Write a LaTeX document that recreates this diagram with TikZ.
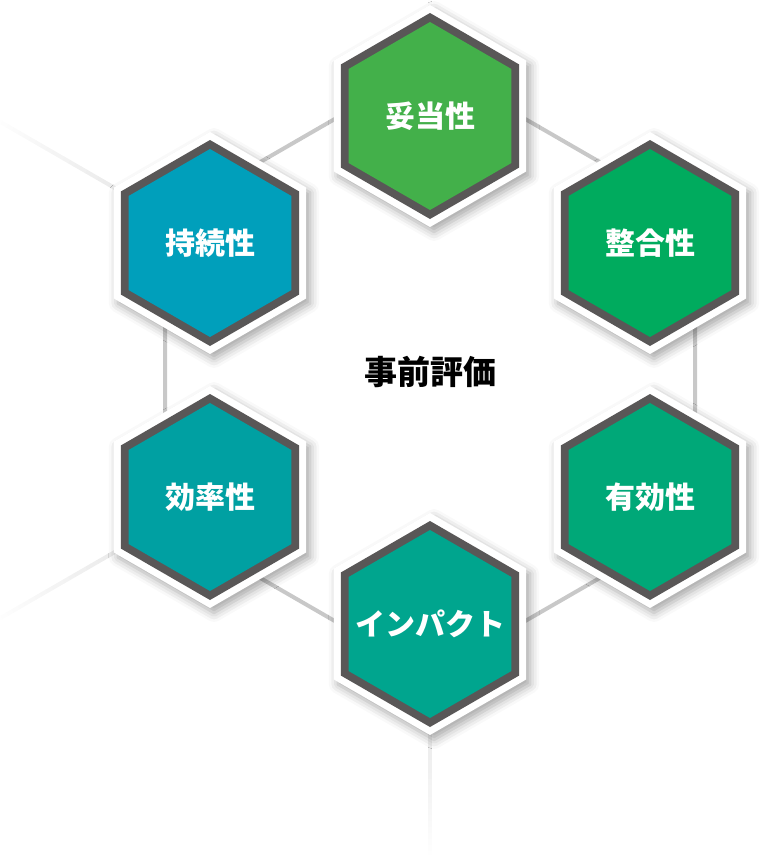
\documentclass[tikz,border=0pt]{standalone}
\usepackage{fontspec}
\newfontfamily\cjk{Noto Sans CJK JP}
\usetikzlibrary{calc,shadows.blur}
\definecolor{hexborder}{HTML}{595757}
\definecolor{linecol}{HTML}{C8C8C8}
\definecolor{fadecol}{HTML}{E2E2E2}
\definecolor{cA}{HTML}{43B04A}
\definecolor{cB}{HTML}{00AB5E}
\definecolor{cC}{HTML}{00A878}
\definecolor{cD}{HTML}{00A58E}
\definecolor{cE}{HTML}{00A0A2}
\definecolor{cF}{HTML}{009FBB}
\tikzset{
  hexlabel/.style={text=white, font=\cjk\bfseries\fontsize{30}{30}\selectfont, inner sep=0pt},
  centerlabel/.style={text=black, font=\cjk\bfseries\fontsize{33}{33}\selectfont, inner sep=0pt},
  bigedge/.style={draw=linecol, line width=4pt},
  hexshadow/.style={blur shadow={shadow xshift=4pt, shadow yshift=-5pt, shadow blur radius=9pt, shadow opacity=35}}
}
\newcommand\fadeline[2]{%
  \foreach \i in {0,...,29} {
    \pgfmathsetmacro\fa{\i/30}
    \pgfmathsetmacro\fb{(\i+1.05)/30}
    \pgfmathtruncatemacro\fp{100-3.3*\i}
    \draw[fadecol!\fp!white, line width=4pt] ($(#1)!\fa!(#2)$) -- ($(#1)!\fb!(#2)$);
  }}
\begin{document}
\begin{tikzpicture}[x=1pt,y=-1pt]
\useasboundingbox (0,0) rectangle (761,855);
% big hexagon vertices
\coordinate (v1) at (430,64);
\coordinate (v2) at (695,217);
\coordinate (v3) at (695,523);
\coordinate (v4) at (430,676);
\coordinate (v5) at (165,523);
\coordinate (v6) at (165,217);
\coordinate (e1) at (430,-2);
\coordinate (e4) at (430,857);
\coordinate (e5) at (-4,620.6);
\coordinate (e6) at (-4,119.4);
% faded radial lines
\fadeline{v6}{e6}
\fadeline{v5}{e5}
\fadeline{v4}{e4}
\fadeline{v1}{e1}
% big hexagon edges
\draw[bigedge] (v1) -- (v2) -- (v3) -- (v4) -- (v5) -- (v6) -- cycle;
% hexagons
\foreach \cx/\cy/\col/\txt/\nm in {430/116/cA/妥当性/hA, 650/243/cB/整合性/hB, 650/497/cC/有効性/hC, 430/624/cD/インパクト/hD, 210/497/cE/効率性/hE, 210/243/cF/持続性/hF} {
  \path[fill=white, hexshadow] (\cx,\cy) +(30:111) -- +(90:111) -- +(150:111) -- +(210:111) -- +(270:111) -- +(330:111) -- cycle;
  \fill[hexborder] (\cx,\cy) +(30:103) -- +(90:103) -- +(150:103) -- +(210:103) -- +(270:103) -- +(330:103) -- cycle;
  \fill[\col] (\cx,\cy) +(30:94) -- +(90:94) -- +(150:94) -- +(210:94) -- +(270:94) -- +(330:94) -- cycle;
  \node[hexlabel] (\nm) at (\cx,\cy) {\txt};
}
\node[centerlabel] (center) at (430,372) {事前評価};
\end{tikzpicture}
\end{document}
